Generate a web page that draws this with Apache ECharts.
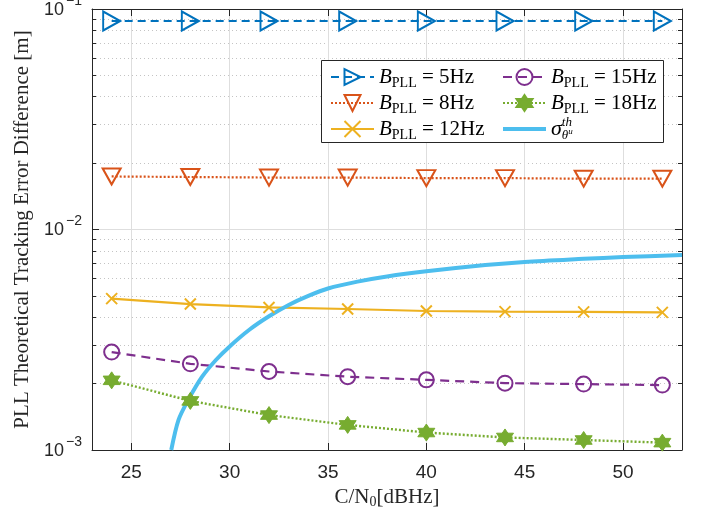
<!DOCTYPE html>
<html>
<head>
<meta charset="utf-8">
<script src="https://cdn.jsdelivr.net/npm/echarts@6/dist/echarts.min.js"></script>
<style>
  html, body { margin: 0; padding: 0; background: #fff; }
  #chart { width: 703px; height: 512px; }
</style>
</head>
<body>
<div id="chart"></div>
<script>
// C/N0 points of the simulated curves
const cn0 = [24, 28, 32, 36, 40, 44, 48, 52]
const err5 = [0.0882, 0.0882, 0.0882, 0.0882, 0.0882, 0.0882, 0.0882, 0.0882]
const err8 = [0.0174, 0.0173, 0.0172, 0.0172, 0.0171, 0.0171, 0.0170, 0.0170]
const err12 = [0.00486, 0.00459, 0.00443, 0.00436, 0.00427, 0.00424, 0.00423, 0.00421]
const err15 = [0.00278, 0.00246, 0.00227, 0.00215, 0.00208, 0.00201, 0.00199, 0.00197]
const err18 = [0.00207, 0.00167, 0.00144, 0.00130, 0.00120, 0.00114, 0.00111, 0.00108]

// theoretical curve (sigma_theta^th)
const thX = [27.03, 27.4, 27.9, 28.6, 29.3, 30, 31, 32, 33, 34, 35, 36.5, 38, 40, 43, 45, 48, 50, 53]
const thY = [0.00100, 0.00137, 0.00169, 0.00215, 0.00256, 0.00295, 0.00351, 0.00404, 0.00455, 0.00500, 0.00540, 0.00580, 0.00612, 0.00646, 0.00690, 0.00713, 0.00736, 0.00750, 0.00766]

const bwLabels = ['5Hz', '8Hz', '12Hz', '15Hz', '18Hz']
const xTicks = [25, 30, 35, 40, 45, 50]
const yMajor = [0.001, 0.01, 0.1]
const yMinor = [0.002, 0.003, 0.004, 0.005, 0.006, 0.007, 0.008, 0.009,
  0.02, 0.03, 0.04, 0.05, 0.06, 0.07, 0.08, 0.09]

const axisColor = '#262626'
const serif = 'Liberation Serif'
const sans = 'Liberation Sans'

function pairs(xs, ys) {
  return xs.map((x, i) => [x, ys[i]])
}

const legendRich = {
  b: { fontFamily: serif, fontStyle: 'italic', fontSize: 21, lineHeight: 26, color: '#000' },
  sub: { fontFamily: serif, fontSize: 14, lineHeight: 14, verticalAlign: 'bottom', color: '#000' },
  t: { fontFamily: serif, fontSize: 21, lineHeight: 26, color: '#000' },
  sg: { fontFamily: serif, fontStyle: 'italic', fontSize: 22, lineHeight: 26, color: '#000' },
  sup: { fontFamily: serif, fontStyle: 'italic', fontSize: 13, lineHeight: 14, verticalAlign: 'top', width: 0.01, color: '#000' },
  th: { fontFamily: serif, fontStyle: 'italic', fontSize: 13, lineHeight: 14, verticalAlign: 'bottom', color: '#000' },
  u: { fontFamily: serif, fontStyle: 'italic', fontSize: 9, lineHeight: 10, padding: [0, 0, 6, 0], verticalAlign: 'bottom', color: '#000' }
}

function legendText(name) {
  if (name === 'sigma') return '{sg|σ}{sup|th}{th|θ}{u|u}'
  return '{b|B}{sub|PLL}{t| = ' + name + '}'
}

const legendBase = {
  orient: 'vertical',
  top: 59,
  itemWidth: 43,
  itemHeight: 20,
  itemGap: 0,
  z: 10,
  formatter: legendText,
  textStyle: { rich: legendRich, lineHeight: 26, height: 26 }
}

const chart = echarts.init(document.getElementById('chart'))

const option = {
  backgroundColor: '#fff',
  animation: false,
  grid: { left: 92, right: 21, top: 9, bottom: 62, outerBoundsMode: 'none' },
  graphic: [{
    type: 'rect',
    left: 321,
    top: 60,
    z: 5,
    shape: { width: 342, height: 82 },
    style: { fill: '#fff', stroke: axisColor, lineWidth: 1 }
  }],
  legend: [
    Object.assign({}, legendBase, { left: 325, data: [bwLabels[0], bwLabels[1], bwLabels[2]] }),
    Object.assign({}, legendBase, {
      left: 496,
      data: [bwLabels[3], bwLabels[4], { name: 'sigma', lineStyle: { width: 4 } }]
    })
  ],
  xAxis: [
    {
      type: 'value',
      min: 23,
      max: 53,
      position: 'bottom',
      name: '{a|C/N}{s|0}{a|[dBHz]}',
      nameLocation: 'middle',
      nameGap: 34,
      nameTextStyle: {
        rich: {
          a: { fontFamily: serif, fontSize: 21, lineHeight: 24, color: axisColor },
          s: { fontFamily: serif, fontSize: 14, lineHeight: 14, verticalAlign: 'bottom', color: axisColor }
        }
      },
      axisLine: { lineStyle: { color: axisColor, width: 1 } },
      axisTick: { inside: true, length: 7, customValues: xTicks, lineStyle: { color: axisColor } },
      axisLabel: { customValues: xTicks, fontFamily: sans, fontSize: 19, color: axisColor, margin: 13 },
      splitLine: { show: true, lineStyle: { color: '#dedede', width: 1 } }
    },
    {
      type: 'value',
      min: 23,
      max: 53,
      position: 'top',
      axisLine: { lineStyle: { color: axisColor, width: 1 } },
      axisTick: { inside: true, length: 7, customValues: xTicks, lineStyle: { color: axisColor } },
      axisLabel: { show: false },
      splitLine: { show: false }
    }
  ],
  yAxis: [
    {
      type: 'log',
      min: 0.001,
      max: 0.1,
      position: 'left',
      name: 'PLL Theoretical Tracking Error Difference [m]',
      nameLocation: 'middle',
      nameGap: 56,
      nameTextStyle: { fontFamily: serif, fontSize: 21, color: axisColor },
      axisLine: { show: true, lineStyle: { color: axisColor, width: 1 } },
      axisTick: { inside: true, length: 7, customValues: yMajor, lineStyle: { color: axisColor } },
      axisLabel: {
        customValues: yMajor,
        margin: 10,
        formatter: (v) => '{b|10}{sup|−' + Math.abs(Math.round(Math.log10(v))) + '}',
        rich: {
          b: { fontFamily: sans, fontSize: 18, lineHeight: 20, padding: [14, 0, 0, 0], verticalAlign: 'bottom', color: axisColor },
          sup: { fontFamily: sans, fontSize: 14, lineHeight: 15, padding: [0, 0, 11, 2], verticalAlign: 'bottom', color: axisColor }
        }
      },
      splitLine: { show: true, lineStyle: { color: '#dedede', width: 1 } }
    },
    {
      // minor ticks + dotted grid on the left
      type: 'log',
      min: 0.001,
      max: 0.1,
      position: 'left',
      axisLine: { show: false },
      axisTick: { inside: true, length: 4, customValues: yMinor, lineStyle: { color: axisColor } },
      axisLabel: { show: false },
      splitLine: { show: true, lineStyle: { color: '#c4c4c4', width: 1, type: [1, 3] } }
    },
    {
      type: 'log',
      min: 0.001,
      max: 0.1,
      position: 'right',
      axisLine: { show: true, lineStyle: { color: axisColor, width: 1 } },
      axisTick: { inside: true, length: 7, customValues: yMajor, lineStyle: { color: axisColor } },
      axisLabel: { show: false },
      splitLine: { show: false }
    },
    {
      type: 'log',
      min: 0.001,
      max: 0.1,
      position: 'right',
      axisLine: { show: false },
      axisTick: { inside: true, length: 4, customValues: yMinor, lineStyle: { color: axisColor } },
      axisLabel: { show: false },
      splitLine: { show: false }
    }
  ],
  series: [
    {
      name: bwLabels[0],
      type: 'line',
      data: pairs(cn0, err5),
      symbol: 'triangle',
      symbolRotate: -90,
      symbolSize: [19, 17],
      itemStyle: { color: 'rgba(0,0,0,0)', borderColor: '#0072BD', borderWidth: 2 },
      lineStyle: { color: '#0072BD', width: 2, type: [8, 5] }
    },
    {
      name: bwLabels[1],
      type: 'line',
      data: pairs(cn0, err8),
      symbol: 'triangle',
      symbolRotate: 180,
      symbolSize: [18, 16],
      itemStyle: { color: 'rgba(0,0,0,0)', borderColor: '#D95319', borderWidth: 2 },
      lineStyle: { color: '#D95319', width: 2.2, type: [2, 2] }
    },
    {
      name: bwLabels[2],
      type: 'line',
      data: pairs(cn0, err12),
      symbol: 'path://M0,0L10,10M0,10L10,0',
      symbolSize: 11,
      itemStyle: { color: '#EDB120', borderColor: '#EDB120', borderWidth: 2 },
      lineStyle: { color: '#EDB120', width: 2.2 }
    },
    {
      name: bwLabels[3],
      type: 'line',
      data: pairs(cn0, err15),
      symbol: 'circle',
      symbolSize: 15,
      itemStyle: { color: 'rgba(0,0,0,0)', borderColor: '#7E2F8E', borderWidth: 2 },
      lineStyle: { color: '#7E2F8E', width: 2.2, type: [9, 6] }
    },
    {
      name: bwLabels[4],
      type: 'line',
      data: pairs(cn0, err18),
      symbol: 'path://M0,-10L8.66,5L-8.66,5ZM0,10L-8.66,-5L8.66,-5Z',
      symbolSize: 17,
      itemStyle: { color: '#77AC30', borderColor: '#77AC30', borderWidth: 1 },
      lineStyle: { color: '#77AC30', width: 2.4, type: [2, 2] }
    },
    {
      name: 'sigma',
      type: 'line',
      data: pairs(thX, thY),
      smooth: 0.3,
      symbol: 'circle',
      showSymbol: false,
      lineStyle: { color: '#4DBEEE', width: 4 },
      itemStyle: { color: 'rgba(0,0,0,0)', borderWidth: 0 }
    }
  ]
}

chart.setOption(option)
</script>
</body>
</html>
